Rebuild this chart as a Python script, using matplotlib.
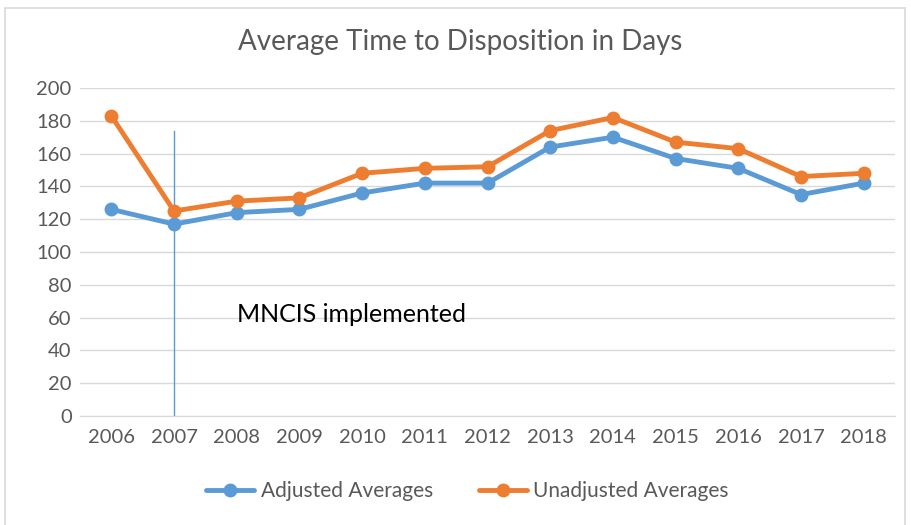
import matplotlib.pyplot as plt
from matplotlib.patches import Rectangle

# data
years = [2006, 2007, 2008, 2009, 2010, 2011, 2012, 2013, 2014, 2015, 2016, 2017, 2018]
adjusted = [126, 117, 124, 126, 136, 142, 142, 164, 170, 157, 151, 135, 142]
unadjusted = [183, 125, 131, 133, 148, 151, 152, 174, 182, 167, 163, 146, 148]
impl_year = 2007
impl_top = 174
impl_label = "MNCIS implemented"

plt.rcParams['font.family'] = ['Lato', 'DejaVu Sans']
grey = '#595959'
blue = '#5B9BD5'
orange = '#ED7D31'

fig = plt.figure(figsize=(9.11, 5.25), dpi=100)
ax = fig.add_axes([0.0878, 0.2076, 0.8947, 0.6248])

# outer chart frame
fig.patches.append(Rectangle((5 / 911, -0.01), 900 / 911, 1 - 8 / 525 + 0.01,
                             transform=fig.transFigure, fill=False,
                             edgecolor='#D9D9D9', lw=1.2))

x = list(range(len(years)))
ax.plot(x, adjusted, color=blue, lw=3.5, marker='o', ms=9, label='Adjusted Averages',
        solid_capstyle='round', zorder=3)
ax.plot(x, unadjusted, color=orange, lw=3.5, marker='o', ms=9, label='Unadjusted Averages',
        solid_capstyle='round', zorder=3)

ix = years.index(impl_year)
ax.plot([ix, ix], [0, impl_top], color=blue, lw=1, zorder=2)
ax.text(2.0, 62, impl_label, fontsize=18, color='black', va='center', ha='left')

ax.set_xlim(-0.5, len(years) - 0.5)
ax.set_ylim(0, 200)
ax.set_yticks(range(0, 201, 20))
ax.set_xticks(x)
ax.set_xticklabels([str(y) for y in years])
ax.grid(axis='y', color='#D9D9D9', lw=1)
ax.set_axisbelow(True)
for side in ['left', 'right', 'top']:
    ax.spines[side].set_visible(False)
ax.spines['bottom'].set_color('#D9D9D9')
ax.tick_params(axis='both', length=0, colors=grey, labelsize=14.5)
ax.tick_params(axis='x', pad=9)
ax.tick_params(axis='y', pad=6)

fig.text(0.505, 1 - 42 / 525, 'Average Time to Disposition in Days', ha='center', va='center',
         fontsize=20, color=grey)

leg = fig.legend(loc='center', bbox_to_anchor=(0.513, 1 - 491 / 525), ncol=2, frameon=False,
                 fontsize=15, handlelength=2.3, columnspacing=2.2, handletextpad=0.3)
for t in leg.get_texts():
    t.set_color(grey)

fig.savefig('out.png', dpi=100)
